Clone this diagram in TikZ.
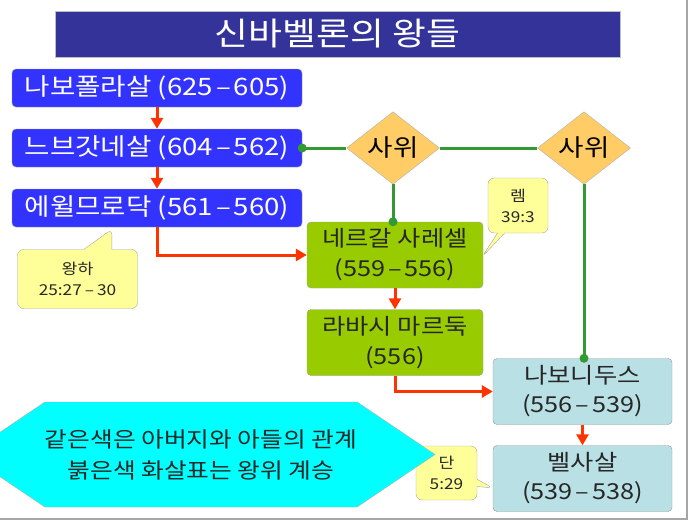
\documentclass[tikz,border=0pt]{standalone}
\usepackage{fontspec}
\setmainfont{Noto Sans CJK KR}[FakeStretch=1.15]
\usetikzlibrary{shapes.geometric,shapes.callouts,shapes.symbols,arrows.meta}
\definecolor{titlenavy}{RGB}{51,51,153}
\definecolor{kingblue}{RGB}{51,51,255}
\definecolor{kinggreen}{RGB}{153,204,0}
\definecolor{kingcyan}{RGB}{185,224,228}
\definecolor{notefill}{RGB}{255,255,153}
\definecolor{wedfill}{RGB}{255,204,102}
\definecolor{lawgreen}{RGB}{51,153,51}
\definecolor{succred}{RGB}{255,51,0}
\definecolor{legendfill}{RGB}{0,255,255}
\newcommand\yrdash{\kern3pt–\kern3pt}
\tikzset{
  king/.style={rectangle,rounded corners=4pt,draw=gray!80,inner sep=0pt,align=center},
  bluebox/.style={king,fill=kingblue,text=white,minimum width=290pt,minimum height=38pt,
    font=\fontsize{24}{26}\selectfont},
  greenbox/.style={king,fill=kinggreen,text=black!85,minimum width=176pt,minimum height=66pt,
    font=\fontsize{22}{30}\selectfont},
  cyanbox/.style={king,fill=kingcyan,text=black!85,minimum width=179pt,minimum height=66pt,
    font=\fontsize{22}{29}\selectfont},
  notebox/.style={rectangle callout,rounded corners=6pt,draw=gray!70,fill=notefill,
    inner sep=0pt,align=center,text=black!85,font=\fontsize{15}{21}\selectfont},
  wedbox/.style={diamond,draw=gray!60,fill=wedfill,inner sep=0pt,minimum width=93pt,
    minimum height=44pt,font=\fontsize{24}{24}\selectfont},
  succ/.style={draw=succred,line width=3pt,-{Triangle[length=11pt,width=12pt]}},
  inlaw/.style={draw=lawgreen,line width=3pt}
}
\begin{document}
\begin{tikzpicture}[x=1pt,y=-1pt]
    \useasboundingbox (0,0) rectangle (694,522);
    % frame
    \draw[gray!70,line width=1.5pt] (687,0) -- (687,519) -- (0,519);
    % Title
    \node[fill=titlenavy,draw=gray!50,minimum width=565pt,minimum height=46pt,inner sep=0pt,
      text=white,font=\fontsize{32}{34}\selectfont] (title) at (337.5,34) {신바벨론의 왕들};
    % Kings
    \node[bluebox] (nabopolassar) at (157,88) {나보폴라살 (625\yrdash605)};
    \node[bluebox] (nebuchadnezzar) at (157,148) {느브갓네살 (604\yrdash562)};
    \node[bluebox] (evilmerodach) at (157,208) {에윌므로닥 (561\yrdash560)};
    \node[greenbox] (neriglissar) at (395,255) {네르갈 사레셀\\(559\yrdash556)};
    \node[greenbox] (labashi) at (395,342.5) {라바시 마르둑\\(556)};
    \node[cyanbox] (nabonidus) at (582.5,391.5) {나보니두스\\(556\yrdash539)};
    \node[cyanbox] (belshazzar) at (582.5,478.5) {벨사살\\(539\yrdash538)};
    % Sons-in-law
    \node[wedbox] (wed1) at (393,148) {사위};
    \node[wedbox] (wed2) at (584,148) {사위};
    % Notes
    \node[notebox,minimum width=120pt,minimum height=59pt,callout pointer width=28pt,
      callout absolute pointer={(112,229)}] (note1) at (77.5,279) {왕하\\25:27\yrdash30};
    \node[notebox,minimum width=60pt,minimum height=55pt,callout absolute pointer={(482,257)}]
      (note2) at (518,205.5) {렘\\39:3};
    \node[notebox,minimum width=61pt,minimum height=54pt,callout absolute pointer={(493,488)}]
      (note3) at (446.5,473) {단\\5:29};
    % Legend
    \node[signal,signal to=west and east,signal pointer angle=68,fill=legendfill,draw=gray!60,
      minimum width=398pt,minimum height=105pt,inner sep=0pt,align=center,text=black!85,
      font=\fontsize{21.5}{31}\selectfont] (legend) at (201,454.5)
      {같은색은 아버지와 아들의 관계\\붉은색 화살표는 왕위 계승};
    % Succession
    \draw[succ] (nabopolassar) -- (nebuchadnezzar);
    \draw[succ] (nebuchadnezzar) -- (evilmerodach);
    \draw[succ] (evilmerodach.south) |- (neriglissar.west);
    \draw[succ] (neriglissar) -- (labashi);
    \draw[succ] (labashi.south) |- (nabonidus.west);
    \draw[succ] (nabonidus) -- (belshazzar);
    % In-law links
    \draw[inlaw] (nebuchadnezzar.east) -- (wed1.west);
    \draw[inlaw] (wed1.east) -- (wed2.west);
    \draw[inlaw] (wed1.south) -- (wed1.south |- neriglissar.north);
    \draw[inlaw] (wed2.south) -- (wed2.south |- nabonidus.north);
    \fill[lawgreen] (nebuchadnezzar.east) circle (4.5pt);
    \fill[lawgreen] (wed1.south |- neriglissar.north) circle (4.5pt);
    \fill[lawgreen] (wed2.south |- nabonidus.north) circle (4.5pt);
\end{tikzpicture}
\end{document}
